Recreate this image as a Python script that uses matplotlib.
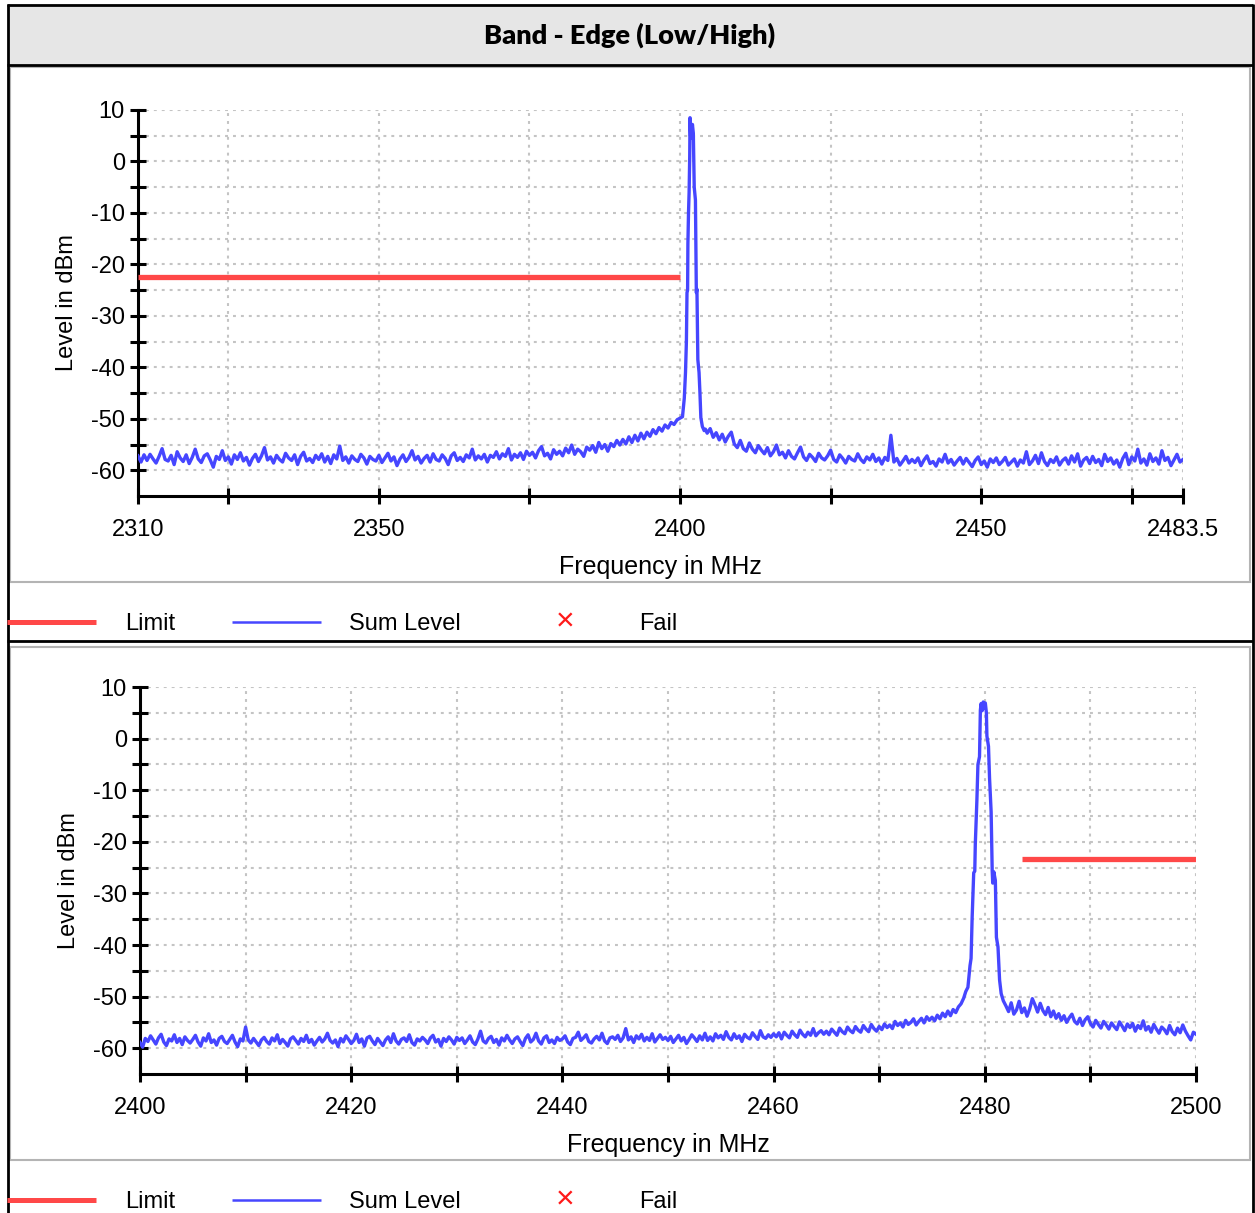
import numpy as np
import matplotlib
matplotlib.use('Agg')
import matplotlib.pyplot as plt
from matplotlib.patches import Rectangle
from matplotlib.lines import Line2D

# Dados (Band-Edge, nível em dBm)

# Painel superior (banda baixa): ruído a esquerda, passo 0.5 MHz a partir de 2310
top_floor_left = [
    -57.2, -58.4, -57.0, -58.1, -56.9, -57.8, -58.6, -57.3, -55.8, -57.9,
    -58.2, -57.1, -58.9, -56.4, -57.6, -58.3, -57.0, -58.7, -57.5, -55.9,
    -57.8, -58.5, -57.2, -56.8, -58.0, -59.4, -57.3, -57.9, -56.2, -58.1,
    -57.4, -58.8, -57.0, -57.9, -56.6, -58.2, -57.5, -59.0, -57.7, -56.9,
    -58.3, -57.2, -55.6, -58.0, -57.4, -58.6, -57.1, -57.9, -58.4, -56.7,
    -57.6, -58.1, -57.0, -58.9, -57.3, -56.5, -58.2, -57.7, -58.5, -57.1,
    -57.9, -56.8, -58.4, -57.3, -58.7, -57.0, -57.8, -55.3, -58.1, -57.4,
    -58.6, -57.2, -57.9, -58.3, -56.9, -57.6, -58.8, -57.3, -57.9, -58.2,
    -57.1, -58.5, -57.6, -56.7, -58.2, -57.4, -59.1, -57.8, -57.0, -58.3,
    -57.5, -56.2, -58.0, -57.3, -58.6, -57.7, -57.1, -58.4, -56.8, -57.9,
    -58.2, -57.0, -57.7, -58.9, -57.2, -56.6, -58.1, -57.5, -58.3, -57.0,
    -57.6, -55.9, -58.0, -57.2, -57.8, -56.9, -58.4, -57.1, -57.5, -56.4,
    -57.8, -56.8, -57.3, -55.8, -58.0, -56.9, -57.5, -56.6, -57.9, -56.3,
    -57.1, -56.5, -57.6, -56.2, -55.4, -57.2, -56.7, -57.8, -56.0, -56.9,
    -56.3, -57.2, -55.7, -56.6, -55.1, -56.9, -55.9, -56.4, -57.3, -55.5,
    -56.1, -55.2, -56.5, -54.6, -55.8, -55.0, -56.3, -54.8, -55.4, -54.2,
    -55.1, -54.0, -54.9, -53.5, -54.6, -53.2, -54.3, -52.8, -53.9, -52.6,
    -53.4, -52.1, -52.9, -51.7, -52.4, -51.2, -51.8, -50.7, -51.1, -50.2,
]

# Pico da portadora (frequência, nível)
top_peak_freq = [
    2399.8, 2400.4, 2400.7, 2400.9, 2401.05, 2401.15, 2401.25, 2401.3, 2401.4, 2401.5,
    2401.6, 2401.65, 2401.75, 2401.85, 2401.95, 2402.05, 2402.2, 2402.35, 2402.55, 2402.65,
    2402.7, 2402.8, 2402.85, 2402.95, 2403.15, 2403.3, 2403.45, 2403.7, 2404.0, 2404.2,
]
top_peak_level = [
    -50.0, -49.6, -46.0, -41.0, -35.0, -25.5, -25.0, -16.0, -10.0, -6.0,
    1.0, 8.5, 5.0, 6.8, 4.5, 7.2, 5.5, -5.0, -7.5, -20.0,
    -25.5, -24.8, -30.0, -38.5, -41.0, -45.0, -49.8, -51.5, -52.3, -52.0,
]

# Ruído a direita, passo 0.5 MHz a partir de 2404.5
top_floor_right = [
    -52.8, -51.9, -53.6, -52.7, -54.1, -53.0, -54.5, -53.4, -52.6,
    -54.9, -55.6, -54.2, -55.8, -56.3, -54.7, -55.9, -56.6, -55.2, -56.1,
    -56.8, -55.6, -57.2, -56.4, -55.1, -57.0, -56.5, -57.6, -56.2, -57.3,
    -57.8, -56.6, -55.5, -57.4, -58.1, -56.9, -57.5, -58.3, -56.7, -57.6,
    -58.0, -57.2, -56.1, -57.9, -58.4, -57.0, -57.7, -58.6, -57.3, -57.9,
    -58.2, -56.8, -57.9, -58.5, -57.4, -58.0, -56.9, -58.3, -57.6, -58.8,
    -57.5, -58.1, -53.2, -58.4, -57.7, -59.0, -58.2, -57.3, -58.6, -57.9,
    -58.5, -57.6, -59.1, -58.0, -57.2, -58.7, -58.3, -59.2, -57.8, -58.4,
    -56.9, -58.6, -57.9, -59.0, -58.2, -57.5, -58.8, -57.7, -58.5, -59.3,
    -58.1, -57.4, -58.9, -58.2, -59.4, -57.8, -58.5, -57.6, -58.9, -58.3,
    -57.5, -59.0, -58.4, -57.8, -59.2, -58.0, -58.6, -56.4, -58.9, -58.2,
    -57.1, -58.7, -56.6, -58.3, -59.1, -57.9, -58.5, -57.4, -59.0, -58.1,
    -57.6, -58.8, -57.2, -58.4, -56.8, -59.2, -58.0, -57.5, -58.7, -57.3,
    -58.5, -57.9, -59.1, -56.9, -58.3, -57.6, -58.8, -58.0, -59.4, -57.7,
    -56.7, -58.9, -57.4, -58.2, -55.9, -58.6, -57.8, -59.0, -56.8, -58.3,
    -57.6, -58.8, -56.2, -58.1, -57.5, -59.1, -58.0, -56.9, -58.4, -57.9,
]

top_limit_freq = [2310, 2400]
top_limit_level = [-22.5, -22.5]

top_ticks = [2310, 2325, 2350, 2375, 2400, 2425, 2450, 2475, 2483.5]
top_tick_labels = ['2310', '', '2350', '', '2400', '', '2450', '', '2483.5']

# Painel inferior (banda alta): ruído a esquerda, passo 0.25 MHz a partir de 2400
bot_floor_left = [
    -58.9, -59.8, -58.1, -58.7, -57.6, -58.4, -59.2, -58.0, -57.3, -58.8, -59.5, -58.2, -58.6, -57.4, -58.9, -58.1, -59.3, -57.8, -58.5, -59.0,
    -58.3, -57.5, -58.8, -59.6, -58.0, -58.6, -57.2, -58.9, -58.4, -59.4, -58.1, -57.7, -58.7, -59.1, -58.3, -57.5, -58.8, -59.7, -58.2, -58.6,
    -55.9, -58.4, -59.0, -58.1, -58.8, -59.5, -58.4, -57.9, -58.7, -59.2, -58.0, -58.6, -57.4, -59.1, -58.3, -58.9, -59.6, -58.2, -57.8, -58.5,
    -59.2, -58.1, -58.7, -57.5, -58.9, -58.3, -59.4, -58.6, -57.9, -58.8, -58.2, -57.1, -58.5, -59.0, -58.4, -59.7, -58.1, -58.8, -57.6, -58.3,
    -59.1, -58.5, -57.3, -58.9, -58.2, -59.6, -58.0, -57.7, -58.6, -59.3, -58.1, -58.8, -59.5, -58.4, -57.8, -58.9, -57.2, -58.6, -59.2, -58.3,
    -58.0, -58.7, -57.4, -58.9, -59.4, -58.2, -58.6, -57.9, -58.4, -59.1, -58.0, -57.5, -58.8, -58.3, -59.6, -58.1, -58.7, -57.8, -58.4, -59.2,
    -57.9, -58.5, -58.0, -59.1, -58.4, -57.6, -58.8, -59.3, -58.2, -56.7, -58.6, -59.0, -58.1, -57.7, -58.9, -58.3, -59.4, -58.0, -58.6, -57.5,
    -58.4, -59.1, -58.2, -57.8, -58.7, -59.5, -58.1, -57.4, -58.8, -58.3, -57.1, -58.6, -59.2, -58.0, -57.6, -58.9, -58.4, -59.1, -57.9, -58.5,
    -58.2, -57.6, -58.8, -59.3, -58.1, -57.9, -56.9, -58.5, -58.0, -57.4, -58.7, -59.0, -58.2, -57.7, -58.4, -57.1, -58.6, -59.1, -58.0, -57.8,
    -58.3, -57.5, -58.7, -58.0, -56.2, -58.4, -57.8, -58.9, -57.6, -58.2, -57.3, -58.6, -57.9, -58.5, -57.2, -58.8, -58.1, -57.4, -58.3, -57.9,
    -58.5, -57.7, -58.9, -58.2, -57.5, -58.6, -57.9, -59.1, -58.3, -57.4, -58.0, -58.7, -57.6, -58.4, -57.1, -58.5, -57.8, -58.6, -57.2, -58.0,
    -57.5, -58.3, -56.8, -57.9, -58.4, -57.2, -58.1, -57.6, -58.7, -57.3, -57.9, -58.2, -57.0, -57.7, -58.3, -56.6, -57.8, -58.1, -57.4, -57.9,
    -57.2, -57.8, -57.0, -58.2, -56.9, -57.5, -58.0, -56.7, -57.4, -57.9, -56.5, -57.3, -57.8, -56.9, -57.5, -56.2, -57.6, -57.0, -56.6, -57.3,
    -56.7, -57.4, -56.3, -56.9, -57.5, -56.1, -56.8, -57.2, -55.9, -56.6, -57.0, -55.8, -56.5, -56.9, -55.6, -56.3, -56.8, -55.4, -56.2, -56.7,
    -55.8, -56.4, -55.3, -56.0, -55.5, -56.2, -54.8, -55.6, -55.1, -55.9, -54.6, -55.4, -55.0, -54.3, -55.5, -54.8, -54.2, -55.1, -53.9, -54.6,
    -54.0, -54.7, -53.6, -54.3, -53.2, -53.9, -52.8, -53.7, -52.5, -53.1, -52.0, -51.4,
]

bot_peak_freq = [
    2478.0, 2478.2, 2478.4, 2478.6, 2478.7, 2478.8, 2478.95, 2479.05, 2479.1, 2479.25,
    2479.35, 2479.5, 2479.58, 2479.65, 2479.75, 2479.85, 2479.95, 2480.05, 2480.15, 2480.2,
    2480.35, 2480.45, 2480.6, 2480.7, 2480.75, 2480.85, 2481.0, 2481.1, 2481.25, 2481.4,
    2481.55, 2481.75,
]
bot_peak_level = [
    -50.3, -49.0, -48.2, -44.0, -42.6, -34.8, -26.0, -25.7, -20.5, -12.0,
    -5.0, -3.5, 5.5, 6.8, 5.4, 7.1, 5.9, 6.9, 5.0, 0.5,
    -1.5, -7.7, -14.2, -25.6, -28.0, -25.8, -27.5, -38.5, -40.4, -46.8,
    -49.4, -50.8,
]

# Ruído a direita, passo 0.25 MHz a partir de 2482
bot_floor_right = [
    -51.8, -52.9, -51.2, -53.4, -52.6, -50.9, -53.1, -52.2, -53.8, -52.4, -50.4, -51.6, -53.0, -51.3, -52.7, -53.5, -52.1, -53.9, -52.8, -54.2,
    -53.3, -54.6, -53.7, -55.0, -54.1, -53.4, -54.8, -55.3, -54.2, -55.6, -54.5, -53.9, -55.2, -55.9, -54.6, -55.4, -56.1, -54.8, -55.5, -56.3,
    -55.1, -55.8, -56.4, -54.9, -55.7, -56.6, -55.3, -56.0, -55.2, -56.7, -55.6, -56.2, -54.7, -56.5, -55.8, -56.9, -55.4, -56.3, -57.1, -55.9,
    -56.4, -57.2, -55.6, -56.8, -57.4, -56.1, -57.0, -55.5, -56.7, -57.6, -58.4, -56.9, -57.3,
]

bot_limit_freq = [2483.5, 2500]
bot_limit_level = [-23.4, -23.4]

bot_ticks = [2400, 2410, 2420, 2430, 2440, 2450, 2460, 2470, 2480, 2490, 2500]
bot_tick_labels = ['2400', '', '2420', '', '2440', '', '2460', '', '2480', '', '2500']

y_tick_labels = ['-60', '', '-50', '', '-40', '', '-30', '', '-20', '', '-10', '', '0', '', '10']

# Montar as curvas completas
top_freq = np.concatenate([2310 + 0.5 * np.arange(len(top_floor_left)), top_peak_freq,
                           2404.5 + 0.5 * np.arange(len(top_floor_right))])
top_level = np.concatenate([top_floor_left, top_peak_level, top_floor_right])
bot_freq = np.concatenate([2400 + 0.25 * np.arange(len(bot_floor_left)), bot_peak_freq,
                           2482 + 0.25 * np.arange(len(bot_floor_right))])
bot_level = np.concatenate([bot_floor_left, bot_peak_level, bot_floor_right])

W, H = 1255, 1213
BLUE = '#4646ff'
RED = '#ff4848'
GRID = '#c4c4c4'
plt.rcParams['font.family'] = ['Liberation Sans', 'DejaVu Sans']

fig = plt.figure(figsize=(W / 100, H / 100), dpi=100)


def fx(px):
    return px / W


def fy(py):
    return 1 - py / H


def hline(x0, x1, y, color='black', lw=2.0):
    fig.add_artist(Line2D([fx(x0), fx(x1)], [fy(y), fy(y)], color=color, lw=lw,
                          transform=fig.transFigure, solid_capstyle='butt'))


def vline(x, y0, y1, color='black', lw=2.0):
    fig.add_artist(Line2D([fx(x), fx(x)], [fy(y0), fy(y1)], color=color, lw=lw,
                          transform=fig.transFigure, solid_capstyle='butt'))


# Faixa do título
fig.add_artist(Rectangle((fx(8), fy(64)), fx(1252) - fx(8), fy(5) - fy(64),
                         transform=fig.transFigure, facecolor='#e6e6e6', edgecolor='none',
                         zorder=-10))
fig.text(fx(630), fy(35), 'Band - Edge (Low/High)', ha='center', va='center',
         fontsize=19.5, fontweight='heavy', family=['Lato', 'DejaVu Sans'])

# Moldura externa e separadores
hline(7, 1253, 5)
vline(7.5, 4, 1213)
vline(1253, 4, 1213)
hline(7, 1253, 65)
hline(7, 1253, 641)

# Caixas dos gráficos (atrás dos eixos)
for y0, y1 in [(67, 582), (647, 1160)]:
    fig.add_artist(Rectangle((fx(10), fy(y1)), fx(1250) - fx(10), fy(y0) - fy(y1),
                             transform=fig.transFigure, facecolor='white',
                             edgecolor='#b4b4b4', lw=1.5, zorder=-10))


def style_axes(ax, ticks, tick_labels, xlim):
    ax.set_xlim(*xlim)
    ax.set_ylim(-65, 10)
    ax.set_xticks(ticks)
    ax.set_xticklabels(tick_labels)
    ax.set_yticks(np.arange(-60, 11, 5))
    ax.set_yticklabels(y_tick_labels)
    ax.spines['top'].set_visible(False)
    ax.spines['right'].set_visible(False)
    ax.spines['left'].set_linewidth(2.2)
    ax.spines['bottom'].set_linewidth(2.2)
    ax.tick_params(axis='both', direction='inout', length=11, width=2.2,
                   labelsize=17, colors='black')
    ax.tick_params(axis='x', pad=11)
    ax.tick_params(axis='y', pad=4)
    ax.grid(True, color=GRID, lw=1.5, linestyle=(0, (1.4, 2.4)))
    ax.set_axisbelow(True)
    ax.patch.set_alpha(0)
    ax.set_xlabel('Frequency in MHz', fontsize=18, labelpad=10)
    ax.set_ylabel('Level in dBm', fontsize=17, labelpad=9)


def legend_row(y):
    hline(7, 96, y - 2, color=RED, lw=3.6)
    fig.text(fx(125), fy(y), 'Limit', fontsize=17, va='center', ha='left')
    hline(232, 321, y - 2, color=BLUE, lw=1.8)
    fig.text(fx(349), fy(y), 'Sum Level', fontsize=17, va='center', ha='left')
    fig.text(fx(565), fy(y - 2), '\u00d7', fontsize=23, va='center', ha='center', color='#ff1a1a')
    fig.text(fx(639), fy(y), 'Fail', fontsize=17, va='center', ha='left')


# Painel superior
ax1 = fig.add_axes([fx(138), fy(496), fx(1183) - fx(138), fy(110) - fy(496)])
style_axes(ax1, top_ticks, top_tick_labels, (2310, 2483.5))
ax1.plot(top_limit_freq, top_limit_level, color=RED, lw=3.8, solid_capstyle='butt', zorder=3)
ax1.plot(top_freq, top_level, color=BLUE, lw=2.4, zorder=4)
legend_row(624)

# Painel inferior
ax2 = fig.add_axes([fx(140), fy(1074), fx(1196) - fx(140), fy(687) - fy(1074)])
style_axes(ax2, bot_ticks, bot_tick_labels, (2400, 2500))
ax2.plot(bot_limit_freq, bot_limit_level, color=RED, lw=3.8, solid_capstyle='butt', zorder=3)
ax2.plot(bot_freq, bot_level, color=BLUE, lw=2.4, zorder=4)
legend_row(1202)

fig.savefig('out.png', dpi=100)
